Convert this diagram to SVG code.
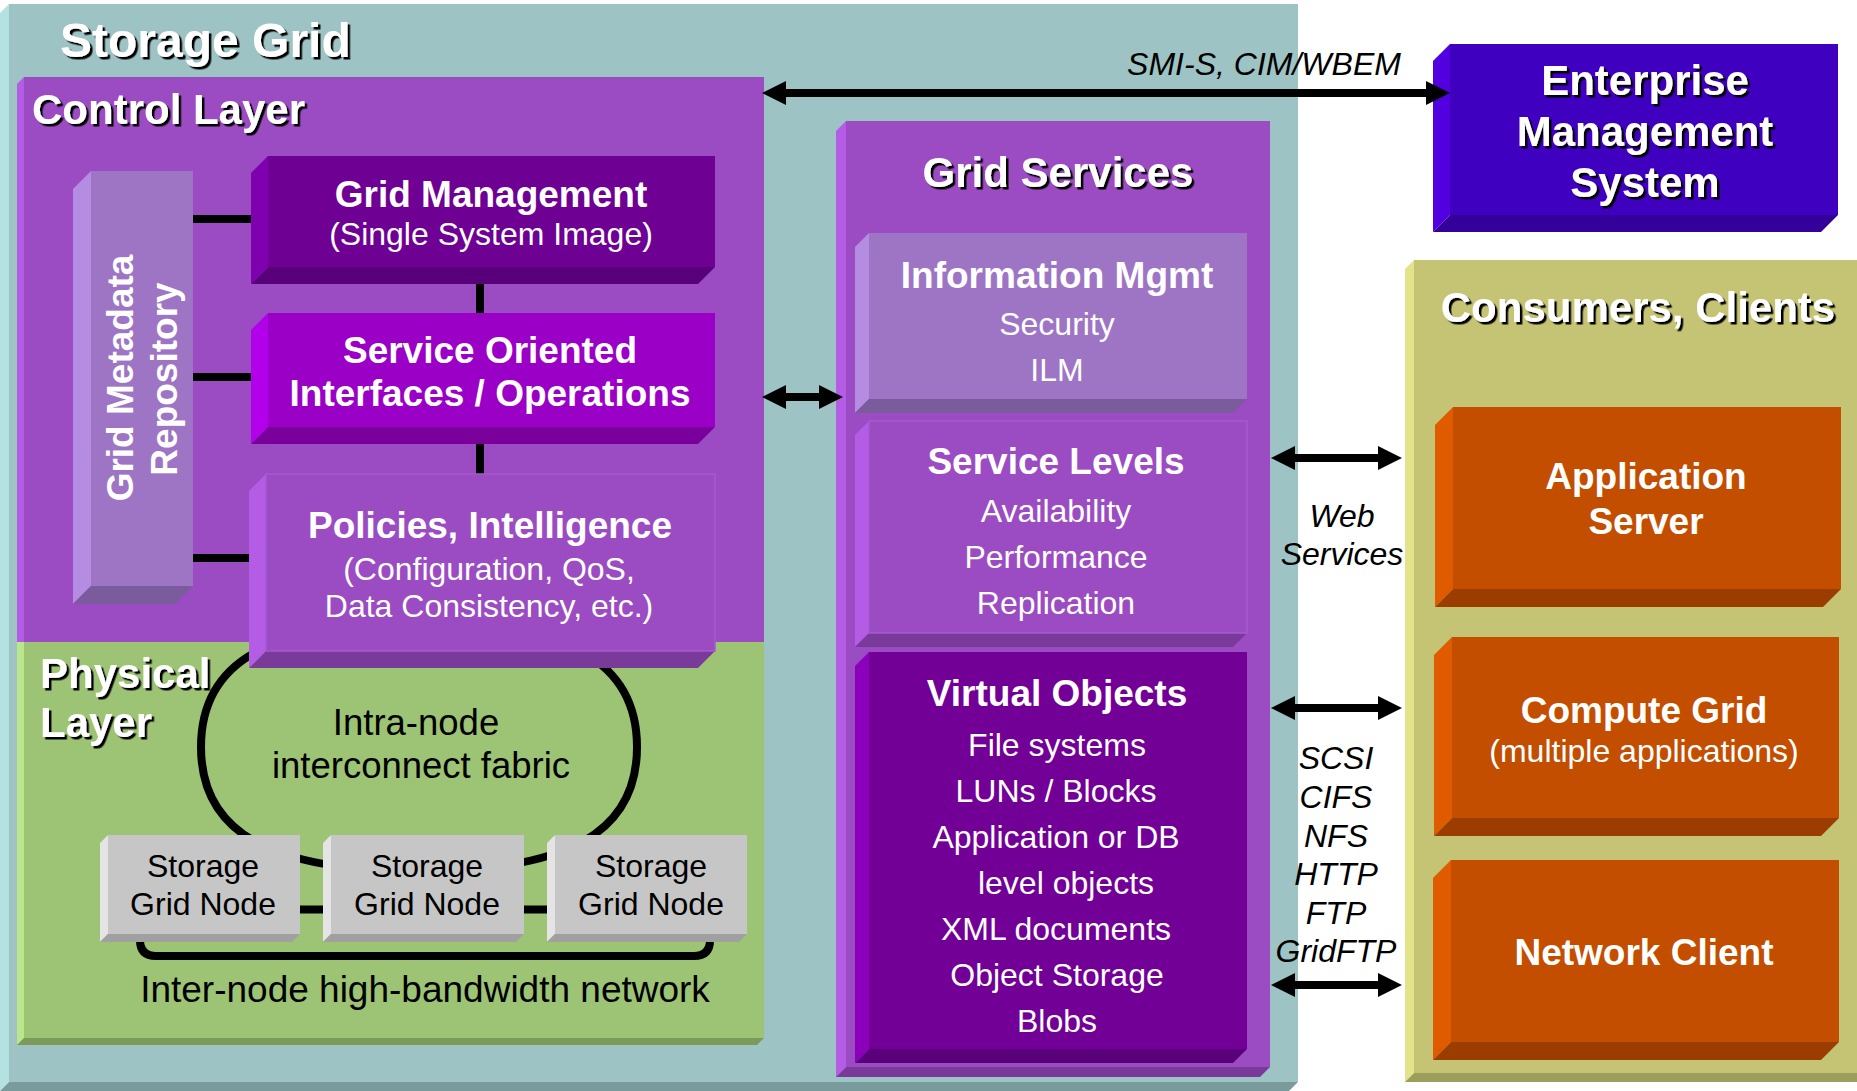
<svg xmlns="http://www.w3.org/2000/svg" width="1857" height="1091" viewBox="0 0 1857 1091">
<defs>
<filter id="sh" x="-5%" y="-5%" width="115%" height="130%"><feDropShadow dx="2.5" dy="2.5" stdDeviation="0.4" flood-color="#000" flood-opacity="1"/></filter>
<marker id="ah" viewBox="0 0 24 24" refX="4" refY="12" markerWidth="24" markerHeight="24" markerUnits="userSpaceOnUse" orient="auto-start-reverse"><path d="M0,0 L24,12 L0,24 Z" fill="#000"/></marker>
<style>
text{font-family:"Liberation Sans",Arial,Helvetica,sans-serif}
.ttl{font-weight:bold;fill:#fff;filter:url(#sh)}
.hb{font-weight:bold;fill:#fff;font-size:37px;text-anchor:middle}
.rw{fill:#fff;font-size:32px;text-anchor:middle}
.rk{fill:#000;font-size:32px;text-anchor:middle}
.it{fill:#000;font-size:32px;font-style:italic;text-anchor:middle}
.lk{stroke:#000;stroke-width:8;fill:none}
.ar{stroke:#000;stroke-width:8;fill:none;marker-start:url(#ah);marker-end:url(#ah)}
.teal{fill:#9DC3C4}.tealL{fill:#B4E2E2}.tealB{fill:#7A9B9B}
.pu{fill:#9B4CC2}.puL{fill:#B45CE6}.puB{fill:#7A3A9A}
.gr{fill:#9DC374}.grL{fill:#BAE68C}.grB{fill:#7C9B5A}
.lv{fill:#9D75C4}.lvL{fill:#B48DE3}.lvB{fill:#7A5B9B}
.dp{fill:#6E0094}.dpL{fill:#7E00AE}.dpB{fill:#58007A}
.bp{fill:#9A00C5}.bpL{fill:#B300EA}.bpB{fill:#7A009C}
.in{fill:#4000BF}.inL{fill:#5200E0}.inB{fill:#34009A}
.ol{fill:#C4C474}.olL{fill:#E3E38B}.olB{fill:#9E9E5C}
.or{fill:#C44E00}.orL{fill:#E05A00}.orB{fill:#9B3C00}
.gy{fill:#C6C6C6}.gyL{fill:#E4E4E4}.gyB{fill:#A0A0A0}
</style>
</defs>
<rect width="1857" height="1091" fill="#fff"/>

<g id="storage-grid">
<polygon class="tealL" points="0,13 9,4 9,1082 0,1091"/>
<polygon class="tealB" points="0,1091 9,1082 1298,1082 1289,1091"/>
<rect class="teal" x="9" y="4" width="1289" height="1078"/>
<text class="ttl" x="60" y="57" font-size="48">Storage Grid</text>
</g>

<g id="control-layer">
<polygon class="puL" points="17,84 24,77 24,642 17,642"/>
<rect class="pu" x="24" y="77" width="740" height="565"/>
<text class="ttl" x="32" y="124" font-size="42">Control Layer</text>
</g>

<g id="physical-layer">
<polygon class="grL" points="17,642 24,642 24,1038 17,1045"/>
<polygon class="grB" points="17,1045 24,1038 764,1038 757,1045"/>
<rect class="gr" x="24" y="642" width="740" height="396"/>
<text class="ttl" x="40" y="688" font-size="42">Physical</text>
<text class="ttl" x="40" y="737" font-size="42">Layer</text>
<text x="416" y="735" font-size="36.5" fill="#000" text-anchor="middle">Intra-node</text>
<text x="421" y="778" font-size="36.5" fill="#000" text-anchor="middle">interconnect fabric</text>
<text x="425" y="1002" font-size="37" fill="#000" text-anchor="middle">Inter-node high-bandwidth network</text>
</g>

<g id="grid-services">
<polygon class="puL" points="836,131 846,121 846,1067 836,1077"/>
<polygon class="puB" points="836,1077 846,1067 1270,1067 1260,1077"/>
<rect class="pu" x="846" y="121" width="424" height="946"/>
<text class="ttl" x="1058" y="187" font-size="42" text-anchor="middle">Grid Services</text>
</g>

<g id="consumers-clients">
<polygon class="olL" points="1405,269 1414,260 1414,1073 1405,1082"/>
<polygon class="olB" points="1405,1082 1414,1073 1857,1073 1857,1082"/>
<rect class="ol" x="1414" y="260" width="443" height="813"/>
<text class="ttl" x="1638" y="322" font-size="42" text-anchor="middle">Consumers, Clients</text>
</g>

<g id="enterprise-management-system">
<polygon class="inL" points="1433,61 1450,44 1450,215 1433,232"/>
<polygon class="inB" points="1433,232 1450,215 1838,215 1821,232"/>
<rect class="in" x="1450" y="44" width="388" height="171"/>
<text class="ttl" x="1645" y="95" font-size="42" text-anchor="middle">Enterprise</text>
<text class="ttl" x="1645" y="146" font-size="42" text-anchor="middle">Management</text>
<text class="ttl" x="1645" y="197" font-size="42" text-anchor="middle">System</text>
</g>

<g id="connectors">
<line class="lk" x1="193" y1="219" x2="268" y2="219"/>
<line class="lk" x1="193" y1="377" x2="268" y2="377"/>
<line class="lk" x1="193" y1="558" x2="266" y2="558"/>
<line class="lk" stroke-width="7" x1="480" y1="284" x2="480" y2="313"/>
<line class="lk" stroke-width="7" x1="480" y1="444" x2="480" y2="474"/>
<path class="lk" stroke-width="5" d="M637,747 C637,832 569,871 419,871 C269,871 201,832 201,747 C201,662 269,623 419,623 C569,623 637,662 637,747 Z"/>
<line class="lk" stroke-width="7" x1="290" y1="909.5" x2="557" y2="909.5"/>
<path class="lk" stroke-width="6" d="M140,930 L140,940 Q140,956 156,956 L694,956 Q710,956 710,940 L710,930"/>
<line class="ar" x1="782" y1="93" x2="1430" y2="93"/>
<line class="ar" x1="782" y1="397" x2="823" y2="397"/>
<line class="ar" x1="1291" y1="458" x2="1382" y2="458"/>
<line class="ar" x1="1291" y1="708" x2="1382" y2="708"/>
<line class="ar" x1="1291" y1="985" x2="1382" y2="985"/>
<text class="it" x="1264" y="75">SMI-S, CIM/WBEM</text>
<text class="it" x="1342" y="527">Web</text>
<text class="it" x="1342" y="565">Services</text>
<text class="it" x="1336" y="769">SCSI</text>
<text class="it" x="1336" y="808">CIFS</text>
<text class="it" x="1336" y="847">NFS</text>
<text class="it" x="1336" y="885">HTTP</text>
<text class="it" x="1336" y="924">FTP</text>
<text class="it" x="1336" y="962">GridFTP</text>
</g>

<g id="grid-metadata-repository">
<polygon class="lvL" points="73,189 91,171 91,586 73,604"/>
<polygon class="lvB" points="73,604 91,586 193,586 175,604"/>
<rect class="lv" x="91" y="171" width="102" height="415"/>
<text class="hb" x="133" y="378" transform="rotate(-90 133 378)">Grid Metadata</text>
<text class="hb" x="177" y="379" transform="rotate(-90 177 379)">Repository</text>
</g>

<g id="grid-management">
<polygon class="dpL" points="251,173 268,156 268,267 251,284"/>
<polygon class="dpB" points="251,284 268,267 715,267 698,284"/>
<rect class="dp" x="268" y="156" width="447" height="111"/>
<text class="hb" x="491" y="207" font-size="36">Grid Management</text>
<text class="rw" x="491" y="245">(Single System Image)</text>
</g>

<g id="service-oriented-interfaces">
<polygon class="bpL" points="251,330 268,313 268,427 251,444"/>
<polygon class="bpB" points="251,444 268,427 715,427 698,444"/>
<rect class="bp" x="268" y="313" width="447" height="114"/>
<text class="hb" x="490" y="363">Service Oriented</text>
<text class="hb" x="490" y="406">Interfaces / Operations</text>
</g>

<g id="policies-intelligence">
<polygon class="puL" points="249,491 266,474 266,651 249,668"/>
<polygon class="puB" points="249,668 266,651 715,651 698,668"/>
<rect class="pu" x="266" y="474" width="449" height="177" stroke="#A65AD0" stroke-width="1.5"/>
<text class="hb" x="490" y="538">Policies, Intelligence</text>
<text class="rw" x="489" y="580">(Configuration, QoS,</text>
<text class="rw" x="489" y="617">Data Consistency, etc.)</text>
</g>

<g id="information-mgmt">
<polygon class="lvL" points="855,247 869,233 869,399 855,413"/>
<polygon class="lvB" points="855,413 869,399 1247,399 1233,413"/>
<rect class="lv" x="869" y="233" width="378" height="166"/>
<text class="hb" x="1057" y="288">Information Mgmt</text>
<text class="rw" x="1057" y="335">Security</text>
<text class="rw" x="1057" y="381">ILM</text>
</g>

<g id="service-levels">
<polygon class="puL" points="855,435 869,421 869,633 855,647"/>
<polygon class="puB" points="855,647 869,633 1247,633 1233,647"/>
<rect class="pu" x="869" y="421" width="378" height="212" stroke="#A65AD0" stroke-width="1.5"/>
<text class="hb" x="1056" y="474">Service Levels</text>
<text class="rw" x="1056" y="522">Availability</text>
<text class="rw" x="1056" y="568">Performance</text>
<text class="rw" x="1056" y="614">Replication</text>
</g>

<g id="virtual-objects">
<polygon points="855,666 869,652 869,1049 855,1063" fill="#8C00BC"/>
<polygon points="855,1063 869,1049 1247,1049 1233,1063" fill="#5A007A"/>
<rect x="869" y="652" width="378" height="397" fill="#720096"/>
<text class="hb" x="1057" y="706">Virtual Objects</text>
<text class="rw" x="1057" y="756">File systems</text>
<text class="rw" x="1056" y="802">LUNs / Blocks</text>
<text class="rw" x="1056" y="848">Application or DB</text>
<text class="rw" x="1066" y="894">level objects</text>
<text class="rw" x="1056" y="940">XML documents</text>
<text class="rw" x="1057" y="986">Object Storage</text>
<text class="rw" x="1057" y="1032">Blobs</text>
</g>

<g id="application-server">
<polygon class="orL" points="1435,425 1453,407 1453,589 1435,607"/>
<polygon class="orB" points="1435,607 1453,589 1841,589 1823,607"/>
<rect class="or" x="1453" y="407" width="388" height="182"/>
<text class="hb" x="1646" y="489">Application</text>
<text class="hb" x="1646" y="534">Server</text>
</g>

<g id="compute-grid">
<polygon class="orL" points="1434,655 1452,637 1452,818 1434,836"/>
<polygon class="orB" points="1434,836 1452,818 1839,818 1821,836"/>
<rect class="or" x="1452" y="637" width="387" height="181"/>
<text class="hb" x="1644" y="723">Compute Grid</text>
<text class="rw" x="1644" y="762">(multiple applications)</text>
</g>

<g id="network-client">
<polygon class="orL" points="1433,878 1451,860 1451,1042 1433,1060"/>
<polygon class="orB" points="1433,1060 1451,1042 1839,1042 1821,1060"/>
<rect class="or" x="1451" y="860" width="388" height="182"/>
<text class="hb" x="1644" y="965">Network Client</text>
</g>

<g id="storage-grid-node-1">
<polygon class="gyL" points="100,843 108,835 108,934 100,942"/>
<polygon class="gyB" points="100,942 108,934 300,934 292,942"/>
<rect class="gy" x="108" y="835" width="192" height="99"/>
<text class="rk" x="203" y="877">Storage</text>
<text class="rk" x="203" y="915">Grid Node</text>
</g>

<g id="storage-grid-node-2">
<polygon class="gyL" points="323,843 331,835 331,934 323,942"/>
<polygon class="gyB" points="323,942 331,934 524,934 516,942"/>
<rect class="gy" x="331" y="835" width="193" height="99"/>
<text class="rk" x="427" y="877">Storage</text>
<text class="rk" x="427" y="915">Grid Node</text>
</g>

<g id="storage-grid-node-3">
<polygon class="gyL" points="547,843 555,835 555,934 547,942"/>
<polygon class="gyB" points="547,942 555,934 747,934 739,942"/>
<rect class="gy" x="555" y="835" width="192" height="99"/>
<text class="rk" x="651" y="877">Storage</text>
<text class="rk" x="651" y="915">Grid Node</text>
</g>
</svg>
